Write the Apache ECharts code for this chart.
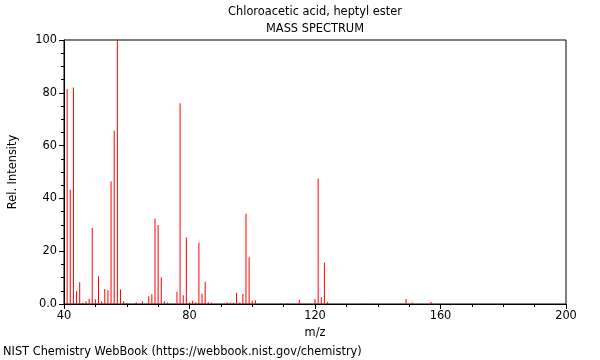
<!DOCTYPE html>
<html>
<head>
<meta charset="utf-8">
<script src="https://cdn.jsdelivr.net/npm/echarts@6/dist/echarts.min.js"></script>
<style>html,body{margin:0;padding:0;background:#fff}#c{width:600px;height:360px}</style>
</head>
<body>
<div id="c"></div>
<script>
const mz = [41,42,43,44,45,46,47,48,49,50,51,52,53,54,55,56,57,58,59,60,63,65,67,68,69,70,71,72,73,76,77,78,79,80,81,82,83,84,85,86,87,91,92,93,94,95,96,97,98,99,100,101,109,111,115,120,121,122,123,124,135,136,143,149,151,157];
const intensity = [81.4,43.3,82,4.8,8.2,0.5,1.0,2.0,28.8,1.8,10.5,1.0,5.7,5.2,46.4,65.6,100,5.5,1.0,0.4,0.7,1.0,2.9,3.7,32.4,29.9,10.1,1.0,0.6,4.6,76,3.3,25.2,0.7,1.2,0.7,23.3,3.9,8.4,0.7,0.5,0.3,0.7,0.5,0.5,4.3,0.6,3.8,34.2,17.7,1.2,1.4,0.2,0.3,1.6,1.9,47.5,2.6,15.7,0.8,0.2,0.2,0.2,1.9,0.6,0.8];
const titleText = 'Chloroacetic acid, heptyl ester';
const subTitleText = 'MASS SPECTRUM';
const footerText = 'NIST Chemistry WebBook (https://webbook.nist.gov/chemistry)';

const chart = echarts.init(document.getElementById('c'), null, {renderer: 'canvas'});
const font = 'DejaVu Sans';
const tf = '11.4px "DejaVu Sans"';
chart.setOption({
  animation: false,
  textStyle: {fontFamily: font},
  grid: {left: 61, right: 34, top: 40, bottom: 56, show: true, borderColor: '#000', borderWidth: 1},
  graphic: [
    {type: 'text', x: 315, y: 7, style: {text: titleText, font: tf, fill: '#000', textAlign: 'center'}},
    {type: 'text', x: 315, y: 24, style: {text: subTitleText, font: tf, fill: '#000', textAlign: 'center'}},
    {type: 'text', x: 3, y: 347, style: {text: footerText, font: tf, fill: '#000'}}
  ],
  xAxis: {
    type: 'value', min: 40, max: 200, interval: 40,
    name: 'm/z', nameLocation: 'middle', nameGap: 24,
    nameTextStyle: {fontSize: 11.4, color: '#000', fontFamily: font},
    axisLine: {show: true, lineStyle: {color: '#000'}},
    axisTick: {show: true, length: 5, lineStyle: {color: '#000'}},
    minorTick: {show: true, splitNumber: 4, length: 3, lineStyle: {color: '#000'}},
    axisLabel: {fontSize: 11.4, color: '#000', margin: 7, fontFamily: font},
    splitLine: {show: false}
  },
  yAxis: {
    type: 'value', min: 0, max: 100, interval: 20,
    name: 'Rel. Intensity', nameLocation: 'middle', nameGap: 45,
    nameTextStyle: {fontSize: 11.4, color: '#000', fontFamily: font},
    axisLine: {show: true, lineStyle: {color: '#000'}},
    axisTick: {show: true, length: 5, lineStyle: {color: '#000'}},
    minorTick: {show: true, splitNumber: 4, length: 3, lineStyle: {color: '#000'}},
    axisLabel: {fontSize: 11.4, color: '#000', margin: 7, fontFamily: font,
      formatter: v => v === 0 ? '0.0' : String(v)},
    splitLine: {show: false}
  },
  series: [{
    type: 'bar',
    barWidth: 1,
    itemStyle: {color: '#ff0000'},
    data: mz.map((m, i) => [m, intensity[i]])
  }]
});
</script>
</body>
</html>
